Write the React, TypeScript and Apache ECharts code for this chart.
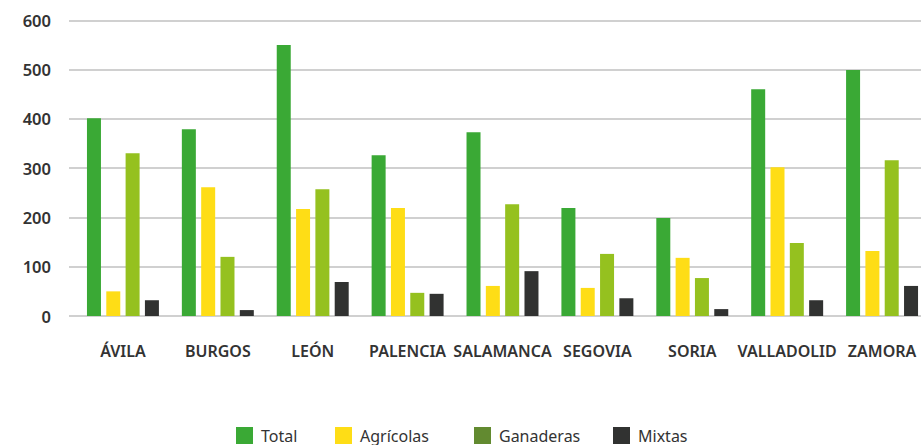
import React, { useEffect, useRef } from "react";
import * as echarts from "echarts";

const categories = ["ÁVILA", "BURGOS", "LEÓN", "PALENCIA", "SALAMANCA", "SEGOVIA", "SORIA", "VALLADOLID", "ZAMORA"];
const total = [401, 379, 550, 326, 373, 219, 199, 460, 499];
const agricolas = [50, 261, 217, 219, 61, 57, 118, 302, 132];
const ganaderas = [330, 120, 257, 47, 227, 126, 77, 148, 316];
const mixtas = [32, 12, 69, 45, 91, 36, 14, 32, 61];
const seriesNames = ["Total", "Agrícolas", "Ganaderas", "Mixtas"];
const barColors = ["#3aa935", "#fedd16", "#95c11f", "#313231"];
const legendColors = ["#3aa935", "#fedd16", "#628a30", "#313231"];
const legendLefts = [236, 335, 474, 613];

export default function App() {
  const ref = useRef<HTMLDivElement>(null);
  useEffect(() => {
    if (!ref.current) return;
    const chart = echarts.init(ref.current, null, { renderer: "svg" });
    const values = [total, agricolas, ganaderas, mixtas];
    const font = "'Noto Sans', sans-serif";
    chart.setOption({
      animation: false,
      backgroundColor: "#ffffff",
      textStyle: { fontFamily: font },
      legend: seriesNames.map((n, i) => ({
        data: [{ name: n, itemStyle: { color: legendColors[i] } }],
        left: legendLefts[i],
        top: 427,
        itemWidth: 17,
        itemHeight: 17,
        itemGap: 0,
        padding: 0,
        icon: "rect",
        textStyle: { fontFamily: font, fontSize: 16, color: "#333333", padding: [2, 0, 0, 3] },
      })),
      grid: [
        { left: 69, width: 852, top: 20.3, height: 295.7, outerBoundsMode: "none" },
        { left: 75.5, width: 854, top: 20.3, height: 295.7, outerBoundsMode: "none" },
      ],
      xAxis: [
        { type: "category", gridIndex: 0, data: categories, show: false },
        {
          type: "category",
          gridIndex: 1,
          data: categories,
          axisLine: { show: false },
          axisTick: { show: false },
          axisLabel: {
            margin: 27,
            fontFamily: font,
            fontSize: 16,
            fontWeight: 600,
            color: "#333333",
            interval: 0,
          },
        },
      ],
      yAxis: [
        {
          type: "value",
          gridIndex: 0,
          min: 0,
          max: 600,
          interval: 100,
          axisLine: { show: false },
          axisTick: { show: false },
          splitLine: { lineStyle: { color: "#d0d0d0", width: 2 } },
          axisLabel: {
            margin: 18,
            fontFamily: font,
            fontSize: 16.5,
            fontWeight: 600,
            color: "#333333",
          },
        },
        {
          type: "value",
          gridIndex: 1,
          min: 0,
          max: 600,
          interval: 100,
          show: false,
          splitLine: { show: false },
        },
      ],
      series: seriesNames.map((n, i) => ({
        name: n,
        type: "bar",
        xAxisIndex: 1,
        yAxisIndex: 1,
        data: values[i],
        barWidth: 14,
        barGap: "38%",
        itemStyle: { color: barColors[i] },
      })),
    });
    return () => chart.dispose();
  }, []);
  return <div ref={ref} style={{ position: "fixed", left: 0, top: 0, width: 921, height: 445 }} />;
}
